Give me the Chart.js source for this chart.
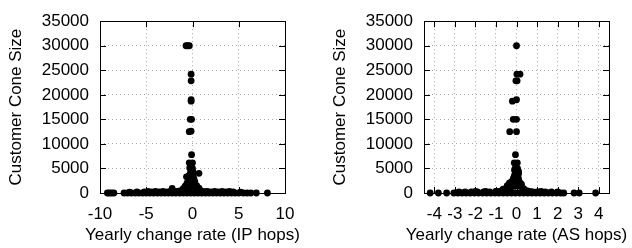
<!DOCTYPE html>
<html>
<head>
<meta charset="utf-8">
<script src="https://cdn.jsdelivr.net/npm/chart.js@4.4.0/dist/chart.umd.min.js"></script>
<style>
  html, body { margin: 0; padding: 0; background: #fff; }
  .box { position: absolute; top: 0; width: 316px; height: 248px; }
</style>
</head>
<body>
<div class="box" style="left:0"><canvas id="ipChart"></canvas></div>
<div class="box" style="left:316px"><canvas id="asChart"></canvas></div>
<script>
// tick labels
const yTicks = [0, 5000, 10000, 15000, 20000, 25000, 30000, 35000];
const ipTicks = [-10, -5, 0, 5, 10];
const asTicks = [-4, -3, -2, -1, 0, 1, 2, 3, 4];

// IP hops: yearly change rate vs customer cone size
const ipX = [
  -9.2, -9.0, -8.75, -8.5,
  -7.4, -7.0, -6.6, -6.2, -5.8, -5.4, -5.0, -4.6, -4.2, -3.8, -3.4, -3.0, -2.6, -2.2,
  -1.8, -1.4, -1.0, -0.6, -0.2, 0.2, 0.6, 1.0, 1.4, 1.8, 2.2, 2.6, 3.0, 3.4, 3.8, 4.2, 4.6, 5.0,
  -6.8, -6.0, -5.2, -4.4, -3.6, -2.8, -2.0, -1.2, 1.2, 2.0, 2.8, 3.6, 4.4, 5.2,
  -4.8, -4.0, -3.2, -2.4, -1.6, -0.8, 0.8, 1.6, 2.4, 3.2, 4.0,
  5.5, 5.9, 6.3, 6.9, 8.1,
  -0.7, -0.52, -0.34,
  -0.15, -0.15, -0.15, -0.15,
  -0.25, -0.1, -0.35, -0.15,
  -0.1, -0.35, 0.0,
  -0.3, 0.0, -0.1, 0.05, -0.25, 0.7, -0.65, -0.4, 0.05, -0.15, 0.15, -0.45, -0.1, 0.25,
  -0.6, -0.2, 0.15, 0.45, -0.8, -0.4, 0.0, 0.7, -1.0, -0.6, 0.3, -2.2, -1.3, 0.9, 1.3, -1.7
];
const ipY = [
  0, 0, 0, 0,
  0, 0, 0, 0, 0, 0, 0, 0, 0, 0, 0, 0, 0, 0,
  0, 0, 0, 0, 0, 0, 0, 0, 0, 0, 0, 0, 0, 0, 0, 0, 0, 0,
  150, 200, 200, 200, 200, 200, 200, 200, 200, 200, 200, 200, 200, 150,
  350, 350, 350, 350, 350, 350, 350, 350, 350, 350, 350,
  0, 0, 0, 0, 0,
  30000, 30000, 30000,
  24200, 22850, 19000, 18700,
  15000, 15000, 12500, 12600,
  7800, 6150, 6150,
  5100, 5000, 4600, 4300, 4000, 4000, 3300, 3500, 3500, 3100, 2900, 2700, 2500, 2300,
  2000, 1900, 1800, 1500, 1400, 1300, 1200, 1000, 900, 800, 700, 950, 500, 500, 300, 300
];

// AS hops: yearly change rate vs customer cone size
const asX = [
  -4.2, -3.8, -3.4,
  -3.05, -2.85, -2.65, -2.45, -2.25, -2.05, -1.85, -1.65, -1.45, -1.25, -1.05, -0.85, -0.65,
  -0.45, -0.25, -0.05, 0.15, 0.35, 0.55, 0.75, 0.95, 1.15, 1.35, 1.55, 1.75, 1.95, 2.15, 2.3,
  -2.8, -2.5, -2.2, -1.9, -1.6, -1.3, -1.0, -0.7, 0.5, 0.8, 1.1, 1.4, 1.7, 2.0,
  -2.0, -1.5, -1.0, 0.6, 1.2,
  2.8, 3.05, 3.85,
  0.0,
  0.02, 0.17, -0.03, 0.03,
  -0.2, 0.0, -0.16, 0.0, -0.33, 0.0,
  -0.05, -0.11, 0.04,
  -0.05, 0.05, -0.1, 0.1, -0.05, 0.1, -0.1, 0.05, -0.15, 0.1, -0.05, -0.25, 0.15, -0.35,
  0.0, 0.24, -0.45, -0.1, 0.2, -0.65, -0.5, 0.35, -0.3, 0.5, -0.8, 0.7, -1.0, 1.0
];
const asY = [
  0, 0, 0,
  0, 0, 0, 0, 0, 0, 0, 0, 0, 0, 0, 0, 0,
  0, 0, 0, 0, 0, 0, 0, 0, 0, 0, 0, 0, 0, 0, 0,
  200, 200, 200, 200, 200, 200, 200, 200, 200, 200, 200, 200, 200, 200,
  350, 350, 350, 350, 350,
  0, 0, 0,
  30000,
  24200, 24200, 22850, 22850,
  18700, 19000, 15000, 15000, 12500, 12500,
  7800, 6150, 6150,
  5200, 5000, 4700, 4400, 4200, 3900, 3600, 3400, 3000, 2900, 2600, 2300, 2200, 2000,
  1900, 1800, 1500, 1400, 1300, 800, 1000, 900, 700, 500, 400, 300, 250, 200
];

const font = { family: '"Liberation Sans", Arial, Helvetica, sans-serif', size: 17 };

// box round the plot with inward tick marks on all four sides
const frame = {
  id: 'frame',
  beforeDatasetsDraw(chart) {
    const { ctx, chartArea: a, scales: { x, y } } = chart;
    ctx.save();
    ctx.strokeStyle = '#000';
    ctx.lineWidth = 1;
    ctx.beginPath();
    x.ticks.forEach(t => {
      const px = Math.round(x.getPixelForValue(t.value)) + 0.5;
      ctx.moveTo(px, a.bottom); ctx.lineTo(px, a.bottom - 6);
      ctx.moveTo(px, a.top); ctx.lineTo(px, a.top + 6);
    });
    y.ticks.forEach(t => {
      const py = Math.round(y.getPixelForValue(t.value)) + 0.5;
      ctx.moveTo(a.left, py); ctx.lineTo(a.left + 6, py);
      ctx.moveTo(a.right, py); ctx.lineTo(a.right - 6, py);
    });
    ctx.stroke();
    ctx.strokeRect(Math.round(a.left) + 0.5, Math.round(a.top) + 0.5,
      Math.round(a.right - a.left), Math.round(a.bottom - a.top));
    ctx.restore();
  }
};

// x title drawn here so it is not squeezed to the plot width
const xTitle = {
  id: 'xTitle',
  afterDraw(chart, args, opts) {
    const { ctx, chartArea: a } = chart;
    ctx.save();
    ctx.font = font.size + 'px ' + font.family;
    ctx.fillStyle = '#000';
    ctx.textAlign = 'center';
    ctx.textBaseline = 'alphabetic';
    ctx.fillText(opts.text, (a.left + a.right) / 2, 240);
    ctx.restore();
  }
};

function makeChart(id, xs, ys, xTicks, xMin, xMax, xLabel, pad) {
  return new Chart(document.getElementById(id), {
    type: 'scatter',
    data: {
      datasets: [{
        data: xs.map((v, i) => ({ x: v, y: ys[i] })),
        backgroundColor: '#000',
        borderWidth: 0,
        pointRadius: 3.4,
        clip: false
      }]
    },
    options: {
      responsive: true,
      maintainAspectRatio: false,
      animation: false,
      layout: { padding: pad },
      plugins: {
        legend: { display: false },
        tooltip: { enabled: false },
        xTitle: { text: xLabel }
      },
      scales: {
        x: {
          type: 'linear',
          min: xMin,
          max: xMax,
          afterBuildTicks: s => { s.ticks = xTicks.map(v => ({ value: v })); },
          afterFit: s => { s.height = 55; },
          grid: { color: '#aaa', drawTicks: false },
          border: { display: false, dash: [1, 3] },
          ticks: { font, color: '#000', padding: 11, maxRotation: 0, autoSkip: false, callback: v => String(v) }
        },
        y: {
          min: 0,
          max: 35000,
          afterBuildTicks: s => { s.ticks = yTicks.map(v => ({ value: v })); },
          afterFit: s => { s.width = 100; },
          grid: { color: '#aaa', drawTicks: false },
          border: { display: false, dash: [1, 3] },
          ticks: { font, color: '#000', padding: 11, callback: v => String(v) },
          title: { display: true, text: 'Customer Cone Size', font, color: '#000', padding: { top: 6, bottom: 0 } }
        }
      }
    },
    plugins: [frame, xTitle]
  });
}

makeChart('ipChart', ipX, ipY, ipTicks, -10, 10, 'Yearly change rate (IP hops)',
  { left: 0, right: 31, top: 13, bottom: 0 });
makeChart('asChart', asX, asY, asTicks, -4.5, 4.5, 'Yearly change rate (AS hops)',
  { left: 8, right: 23, top: 13, bottom: 0 });
</script>
</body>
</html>
